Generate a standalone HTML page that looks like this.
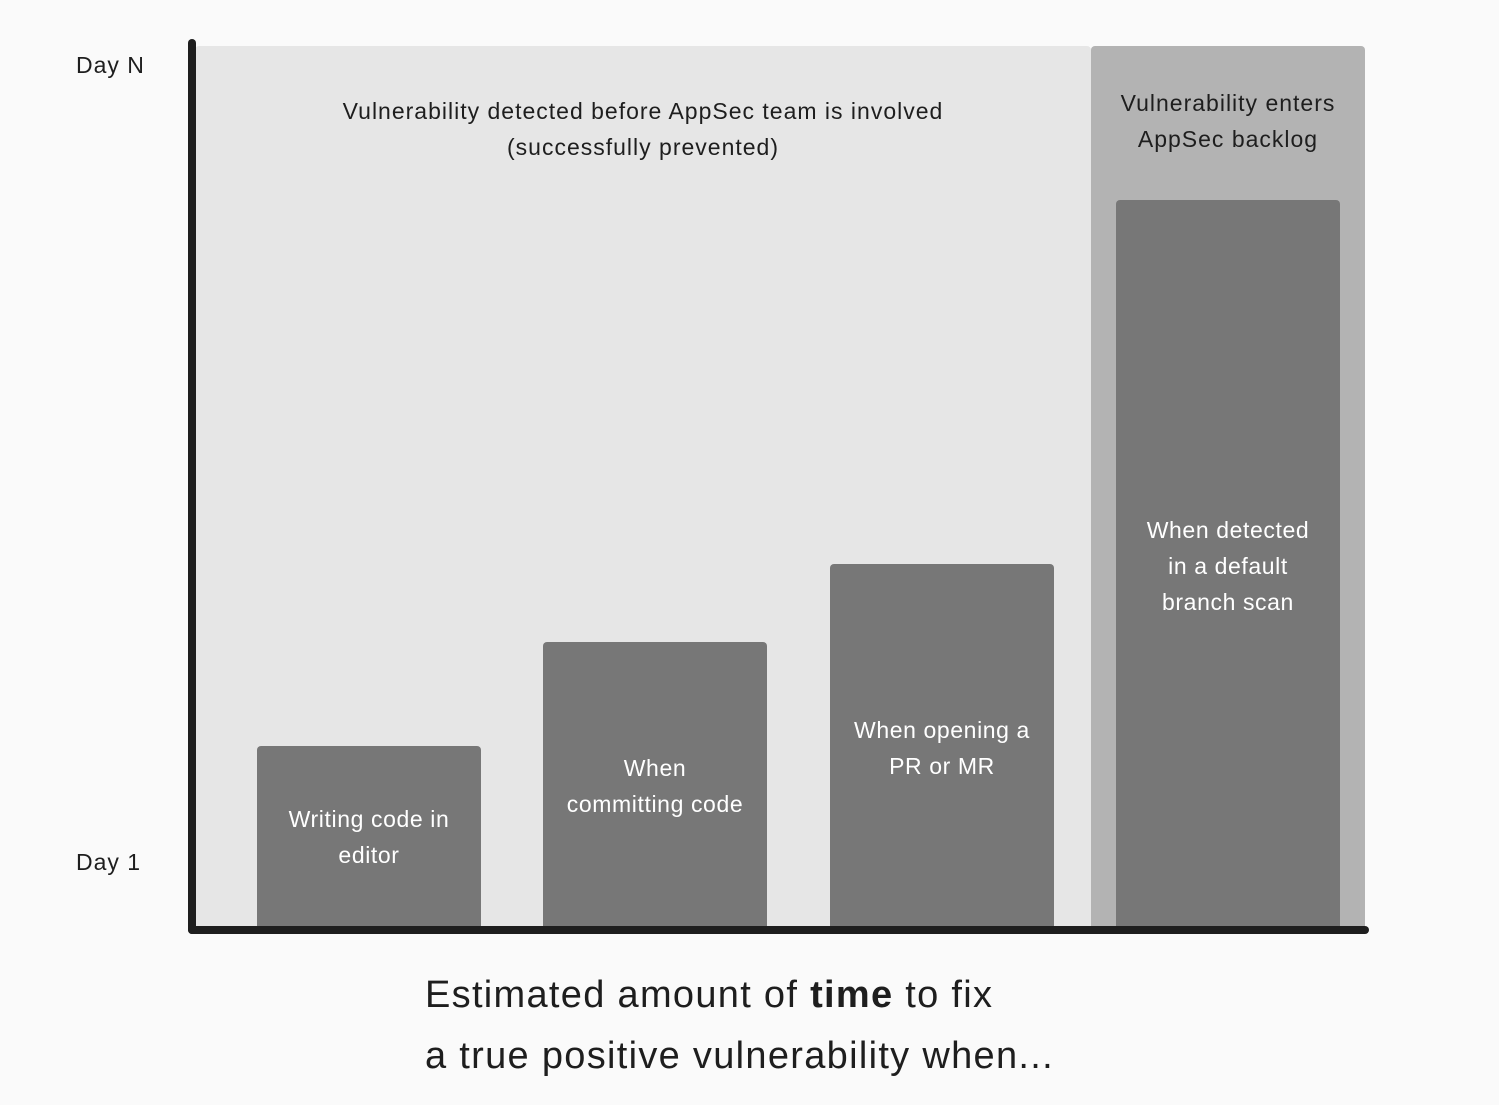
<!DOCTYPE html>
<html><head><style>
body{margin:0;width:1499px;height:1105px;background:#fafafa;position:relative;font-family:"Liberation Sans",sans-serif;color:#1e1e1e;overflow:hidden}
div{position:absolute}
.bar{background:#777;border-radius:4px 4px 0 0;color:#fff;font-size:23px;line-height:36px;text-align:center;display:flex;align-items:center;justify-content:center;letter-spacing:0.6px}
.t{font-size:23px;line-height:36px;text-align:center;letter-spacing:1px}
</style></head><body>
<div style="left:195px;top:46px;width:896px;height:882px;background:#e6e6e6;border-radius:4px 4px 0 0"></div>
<div style="left:1091px;top:46px;width:274px;height:882px;background:#b3b3b3;border-radius:4px 4px 0 0"></div>
<div class="bar" style="left:257px;top:746px;width:224px;height:182px">Writing code in<br>editor</div>
<div class="bar" style="left:543px;top:642px;width:224px;align-items:flex-start;padding-top:108px;height:178px">When<br>committing code</div>
<div class="bar" style="left:830px;top:564px;width:224px;align-items:flex-start;padding-top:148px;height:216px">When opening a<br>PR or MR</div>
<div class="bar" style="left:1116px;top:200px;width:224px;align-items:flex-start;padding-top:312px;height:416px">When detected<br>in a default<br>branch scan</div>
<div class="t" style="left:195px;top:93px;width:896px">Vulnerability detected before AppSec team is involved<br>(successfully prevented)</div>
<div class="t" style="left:1091px;top:85px;width:274px">Vulnerability enters<br>AppSec backlog</div>
<div style="left:188px;top:39px;width:8px;height:895px;background:#1e1e1e;border-radius:4px"></div>
<div style="left:188px;top:926px;width:1181px;height:8px;background:#1e1e1e;border-radius:4px"></div>
<div class="t" style="left:76px;top:47px;text-align:left">Day N</div>
<div class="t" style="left:76px;top:844px;text-align:left">Day 1</div>
<div style="left:425px;top:965px;font-size:38px;line-height:61px;letter-spacing:1.3px">Estimated amount of <b>time</b> to fix<br>a true positive vulnerability when...</div>
</body></html>
